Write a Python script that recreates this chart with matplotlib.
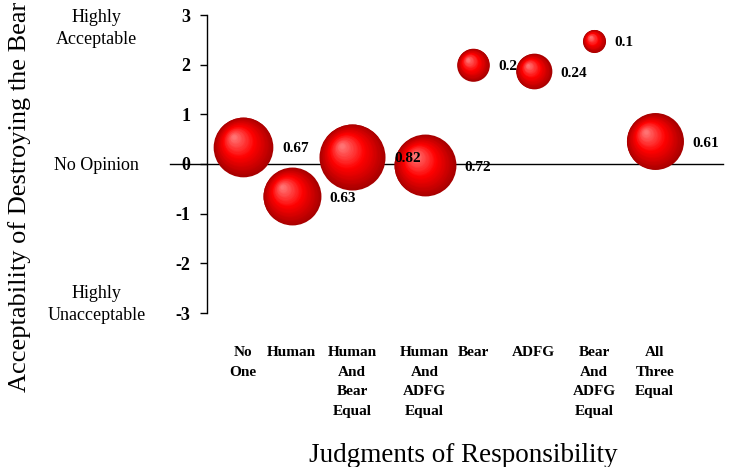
import numpy as np
import matplotlib
matplotlib.use("Agg")
import matplotlib.pyplot as plt
from matplotlib.transforms import offset_copy, blended_transform_factory

plt.rcParams['font.family'] = ['Liberation Serif', 'DejaVu Serif']

# data
categories = ["No\nOne", "Human", "Human\nAnd\nBear\nEqual", "Human\nAnd\nADFG\nEqual",
              "Bear", "ADFG", "Bear\nAnd\nADFG\nEqual", "All\nThree\nEqual"]
x_pos = [0.6, 1.4, 2.4, 3.6, 4.4, 5.4, 6.4, 7.4]
y_vals = [0.35, -0.65, 0.15, -0.03, 2.0, 1.87, 2.48, 0.46]
props = [0.67, 0.63, 0.82, 0.72, 0.2, 0.24, 0.1, 0.61]
prop_labels = ["0.67", "0.63", "0.82", "0.72", "0.2", "0.24", "0.1", "0.61"]
y_ticks = [-3, -2, -1, 0, 1, 2, 3]

fig = plt.figure(figsize=(7.33, 4.67), dpi=100)
ax = fig.add_axes([207 / 733, 1 - 313 / 467, 516 / 733, 298 / 467])
ax.set_xlim(0, 8.53)
ax.set_ylim(-3, 3)

# shaded sphere: stacked circles moving towards the highlight
def sphere(x, y, diam_pt, n=30):
    r = diam_pt / 2
    for i in range(n):
        f = i / (n - 1)
        d = diam_pt * (1 - 0.93 * f)
        dx, dy = -0.32 * r * f, 0.32 * r * f
        if f < 0.5:
            t = f / 0.5
            c = (0.66 + 0.34 * t, 0.0, 0.0)
        else:
            t = (f - 0.5) / 0.5
            c = (1.0, 0.45 * t, 0.45 * t)
        tr = offset_copy(ax.transData, fig=fig, x=dx, y=dy, units='points')
        ax.scatter([x], [y], s=d ** 2, color=c, linewidths=0, transform=tr, zorder=3)

for x, y, p, lab in zip(x_pos, y_vals, props, prop_labels):
    diam = 52.5 * np.sqrt(p)
    sphere(x, y, diam)
    ax.annotate(lab, (x, y), xytext=(diam / 2 + 6.5, -1.5), textcoords='offset points',
                ha='left', va='center', fontsize=11, fontweight='bold', zorder=4)

# zero line running past the axis
blend = blended_transform_factory(ax.transAxes, ax.transData)
ax.plot([-0.072, 1.0], [0, 0], color='black', lw=1, transform=blend, clip_on=False, zorder=2)

for s in ['top', 'right', 'bottom']:
    ax.spines[s].set_visible(False)
ax.spines['left'].set_linewidth(1)
ax.set_yticks(y_ticks)
ax.set_yticklabels([str(t) for t in y_ticks], fontweight='bold', fontsize=13)
ax.tick_params(axis='y', length=5, width=1, pad=7)
ax.set_xticks([])

# category labels under the plot
for x, c in zip(x_pos, categories):
    ax.annotate(c, (x, -3), xytext=(0, -24), textcoords='offset points', ha='center', va='top',
                fontsize=11, fontweight='bold', linespacing=1.65)

# verbal scale labels
lblend = blended_transform_factory(fig.transFigure, ax.transData)
ax.text(96.5 / 733, 2.73, "Highly\nAcceptable", transform=lblend, ha='center', va='center',
        fontsize=13, linespacing=1.35)
ax.text(96.5 / 733, -0.03, "No Opinion", transform=lblend, ha='center', va='center', fontsize=13)
ax.text(96.5 / 733, -2.83, "Highly\nUnacceptable", transform=lblend, ha='center', va='center',
        fontsize=13, linespacing=1.35)

fig.text(20 / 733, 1 - 197 / 467, "Acceptability of Destroying the Bear", rotation=90,
         ha='center', va='center', fontsize=19)
fig.text(463 / 733, 1 - 455 / 467, "Judgments of Responsibility", ha='center', va='center',
         fontsize=19.5)

fig.savefig("out.png", dpi=100)
